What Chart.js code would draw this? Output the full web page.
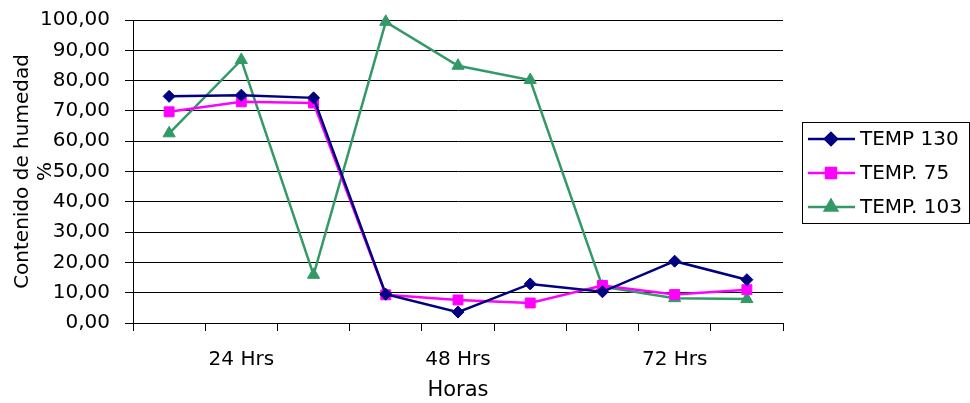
<!DOCTYPE html>
<html>
<head>
<meta charset="utf-8">
<script src="https://cdn.jsdelivr.net/npm/chart.js@4/dist/chart.umd.min.js"></script>
<style>
  html, body { margin: 0; padding: 0; background: #fff; }
  #wrap { width: 970px; height: 403px; }
</style>
</head>
<body>
<div id="wrap"><canvas id="c" width="970" height="403"></canvas></div>
<script>
// Sampling points: three readings per drying time, label on the middle one
const categories = ['', '24 Hrs', '', '', '48 Hrs', '', '', '72 Hrs', ''];

const seriesNames = ['TEMP 130', 'TEMP. 75', 'TEMP. 103'];
const temp130 = [74.8, 75.2, 74.3, 9.5, 3.6, 12.9, 10.3, 20.4, 14.3];
const temp75  = [69.7, 73.0, 72.6, 9.3, 7.6, 6.6, 12.4, 9.4, 11.0];
const temp103 = [62.6, 86.8, 15.9, 99.4, 84.9, 80.2, 12.0, 8.2, 7.9];

const yTicks = { min: 0, max: 100, step: 10 };

const FONT = 'DejaVu Sans';
const colors = ['#000080', '#FF00FF', '#339966'];
const styles = ['rectRot', 'rect', 'triangle'];
const radii = [6, 7, 7];

function makeSet(i, data) {
  return {
    label: seriesNames[i],
    data: data,
    borderColor: colors[i],
    backgroundColor: colors[i],
    borderWidth: 2.5,
    pointStyle: styles[i],
    pointRadius: radii[i],
    pointBorderWidth: 1,
    tension: 0,
    clip: false
  };
}

// Boxed legend with line + marker samples, drawn on the right side
const boxLegend = {
  id: 'boxLegend',
  afterDraw(chart) {
    const ctx = chart.ctx;
    const x0 = 802, y0 = 122, x1 = 969, y1 = 223;
    ctx.save();
    ctx.strokeStyle = '#000';
    ctx.lineWidth = 1;
    ctx.strokeRect(x0 + 0.5, y0 + 0.5, x1 - x0, y1 - y0);
    const rows = [139, 173, 207];
    chart.data.datasets.forEach((ds, i) => {
      const y = rows[i];
      ctx.strokeStyle = ds.borderColor;
      ctx.lineWidth = 2.5;
      ctx.beginPath();
      ctx.moveTo(808, y);
      ctx.lineTo(855, y);
      ctx.stroke();
      ctx.fillStyle = ds.backgroundColor;
      Chart.helpers.drawPoint(ctx, {
        pointStyle: ds.pointStyle, radius: ds.pointRadius, borderWidth: 1, rotation: 0
      }, 831, y);
      ctx.fillStyle = '#000';
      ctx.font = '20px "' + FONT + '"';
      ctx.textBaseline = 'middle';
      ctx.textAlign = 'left';
      ctx.fillText(ds.label, 860, y + 1);
    });
    ctx.restore();
  }
};

new Chart(document.getElementById('c'), {
  type: 'line',
  data: {
    labels: categories,
    datasets: [makeSet(0, temp130), makeSet(1, temp75), makeSet(2, temp103)]
  },
  options: {
    responsive: false,
    animation: false,
    layout: { padding: { left: 0, top: 20, right: 187, bottom: 0 } },
    plugins: { legend: { display: false }, tooltip: { enabled: false } },
    scales: {
      x: {
        type: 'category',
        offset: true,
        grid: { offset: true, drawOnChartArea: false, drawTicks: true, tickLength: 8, color: '#000', lineWidth: 1 },
        border: { display: true, color: '#000', width: 1 },
        ticks: { color: '#000', font: { family: FONT, size: 20 }, padding: 17, autoSkip: false, maxRotation: 0 },
        title: { display: true, text: 'Horas', color: '#000', font: { family: FONT, size: 21, lineHeight: 1.15 }, padding: { top: 0, bottom: 0 } },
        afterFit(scale) { scale.height = 80; }
      },
      y: {
        min: yTicks.min,
        max: yTicks.max,
        grid: { color: '#000', lineWidth: 1, drawTicks: true, tickLength: 8 },
        border: { display: true, color: '#000', width: 1 },
        ticks: {
          stepSize: yTicks.step,
          color: '#000',
          font: { family: FONT, size: 20 },
          padding: 15,
          callback: v => v.toFixed(2).replace('.', ',')
        },
        title: {
          display: true,
          text: ['Contenido de humedad', '%'],
          color: '#000',
          font: { family: FONT, size: 20, lineHeight: 1.15 },
          padding: { top: 11, bottom: 0 }
        },
        afterFit(scale) {
          scale.width = 133;
          scale.paddingTop = 0;
          scale.paddingBottom = 0;
        }
      }
    }
  },
  plugins: [boxLegend]
});
</script>
</body>
</html>
